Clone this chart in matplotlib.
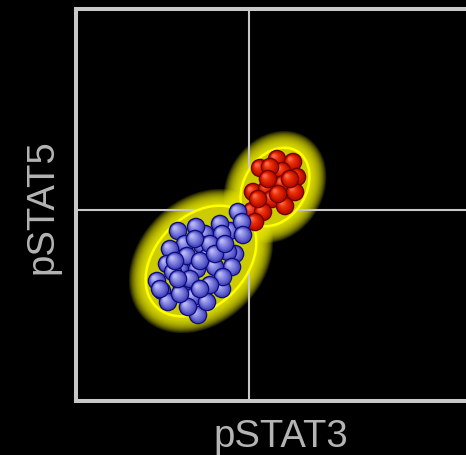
import numpy as np
import matplotlib
matplotlib.use("Agg")
import matplotlib.pyplot as plt
from matplotlib.patches import Circle, Ellipse

# Fluorescence coordinates of each cell (pSTAT3, pSTAT5)
blue_x = [129, 104, 86, 146, 159, 154, 102, 122,
          162, 166, 144, 146, 167, 120, 109, 94, 126, 152, 132, 91, 111, 121, 156,
          97, 139, 147, 81, 106, 114, 134, 117, 92, 131, 112,
          99, 124, 134, 104, 124, 139, 84, 102, 149, 119]
blue_y = [167, 132, 110, 112, 147, 170, 170, 86,
          189, 179, 177, 167, 166, 174, 157, 152, 156, 149, 144, 137, 145, 132, 134,
          129, 134, 124, 120, 115, 122, 116, 104, 99, 99, 94,
          140, 140, 157, 107, 112, 147, 112, 122, 157, 162]

red_x = [201, 217, 184, 206, 194, 221, 207, 219, 177, 191, 196, 209, 176, 187, 179,
         192, 202, 214, 182]
red_y = [242, 239, 233, 230, 234, 224, 217, 209, 209, 212, 202, 195, 190, 189, 179,
         222, 207, 222, 202]

# Gate ellipses: centre x, centre y, width, height, angle
blue_gate = (125, 140, 128, 90, 45)
red_gate = (199, 214, 84, 62, 58)

# Quadrant thresholds
x_threshold = 173
y_threshold = 191

x_label = "pSTAT3"
y_label = "pSTAT5"

W, H = 466, 456
fig = plt.figure(figsize=(W / 100, H / 100), dpi=100, facecolor="black")
ax = fig.add_axes([76 / W, (H - 402) / H, 411 / W, 392 / H])
ax.set_facecolor("black")
ax.set_xlim(0, 411)
ax.set_ylim(0, 392)
ax.set_xticks([])
ax.set_yticks([])
frame_col = "#c8c8c8"
for side in ["left", "top", "bottom"]:
    ax.spines[side].set_color(frame_col)
    ax.spines[side].set_linewidth(2.9)
ax.spines["right"].set_visible(False)

# Quadrant lines
ax.axvline(x_threshold, color=frame_col, lw=1.5, zorder=2)
ax.axhline(y_threshold, color=frame_col, lw=1.5, zorder=2)


def draw_gate(cx, cy, w, h, ang):
    # soft glow around the gate, densest next to the outline
    steps = 17 * np.linspace(0, 1, 22) ** 1.2
    for d in steps:
        ax.add_patch(Ellipse((cx, cy), w + 2 * d, h + 2 * d, angle=ang,
                             facecolor="#eaea00", edgecolor="none",
                             alpha=0.13, zorder=1))
    ax.add_patch(Ellipse((cx, cy), w, h, angle=ang, facecolor="#cccc00",
                         edgecolor="none", zorder=3))
    ax.add_patch(Ellipse((cx, cy), w, h, angle=ang, facecolor="none",
                         edgecolor="#ffff00", lw=1.8, zorder=4))


draw_gate(*blue_gate)
draw_gate(*red_gate)

blue_shades = ["#0c0c80", "#4848ba", "#5c5cca", "#6e6ed6", "#8080de", "#9292e6",
               "#a4a4ee", "#b6b6f4"]
red_shades = ["#700000", "#b40e00", "#c61600", "#d61e00", "#e22800", "#ec3610",
              "#f34a28", "#f86646"]


def draw_sphere(x, y, shades, z, r=9.3):
    ax.add_patch(Circle((x, y), r, facecolor=shades[0], edgecolor="none", zorder=z))
    for i, c in enumerate(shades[1:]):
        f = 0.86 - 0.11 * i
        off = (0.86 - f) * r * 0.5
        ax.add_patch(Circle((x - off, y + off), r * f, facecolor=c,
                            edgecolor="none", zorder=z))


z = 5
for x, y in zip(red_x, red_y):
    draw_sphere(x, y, red_shades, z)
    z += 0.01
for x, y in zip(blue_x, blue_y):
    draw_sphere(x, y, blue_shades, z)
    z += 0.01

label_col = "#b4b4b4"
fig.text(281 / W, (H - 447) / H, x_label, ha="center", va="baseline",
         color=label_col, fontsize=27.5, family="Liberation Sans")
fig.text(42 / W, (H - 207) / H, y_label, ha="center", va="center",
         rotation=90, color=label_col, fontsize=27.5, family="Liberation Sans")

fig.savefig("out.png", dpi=100, facecolor="black")
